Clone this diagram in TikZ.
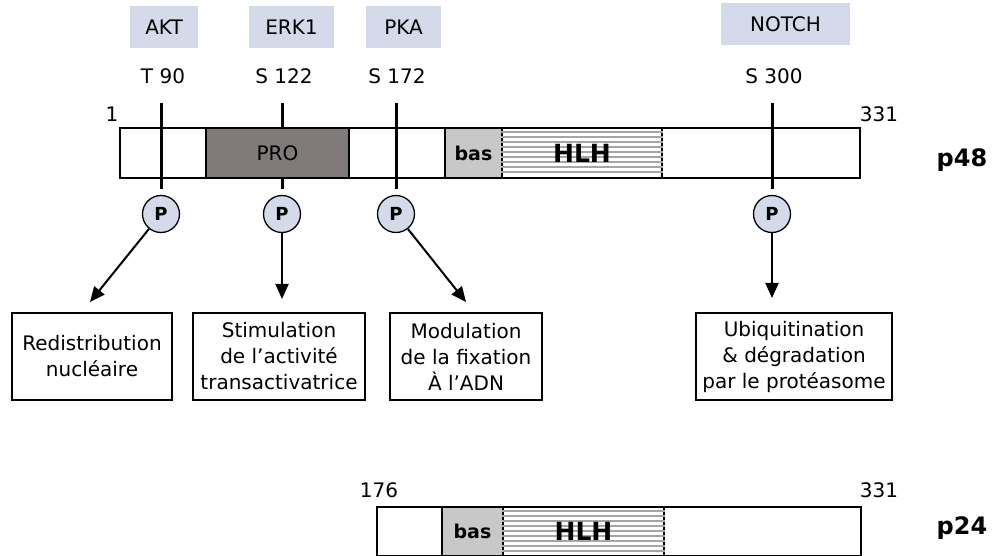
\documentclass[tikz,border=0pt]{standalone}
\usepackage{fontspec}
\setmainfont{DejaVu Sans}
\usepackage{tikz}
\usetikzlibrary{arrows.meta}

\definecolor{kinase}{HTML}{D5DAEB}
\definecolor{prolin}{HTML}{807A7A}
\definecolor{basic}{HTML}{C8C8C8}
\definecolor{stripe}{HTML}{A8A4A4}

\begin{document}
\begin{tikzpicture}[x=1pt,y=-1pt,
    kin/.style={fill=kinase,minimum height=42pt,inner sep=0pt,font=\fontsize{20}{22}\selectfont},
    site/.style={font=\fontsize{20}{22}\selectfont},
    phos/.style={circle,draw,line width=1.3pt,fill=kinase,minimum size=37pt,inner sep=0pt,font=\bfseries\fontsize{18}{20}\selectfont},
    effect/.style={draw,line width=1.3pt,align=center,minimum height=87pt,inner sep=0pt,font=\fontsize{20}{26}\selectfont},
    segbox/.style={draw,line width=1.6pt,minimum height=50pt,inner sep=0pt},
    arr/.style={-{Triangle[length=15pt,width=13pt]},line width=2pt}]
  \useasboundingbox (0,0) rectangle (994,556);

  % kinases and sites
  \node[kin,minimum width=68pt] (akt) at (164,27) {AKT};
  \node[kin,minimum width=85pt] (erk) at (291.5,27) {ERK1};
  \node[kin,minimum width=75pt] (pka) at (403.5,27) {PKA};
  \node[kin,minimum width=129pt] (notch) at (785.5,24) {NOTCH};
  \node[site] (sA) at (163,76) {T 90};
  \node[site] (sE) at (284,76) {S 122};
  \node[site] (sP) at (397,76) {S 172};
  \node[site] (sN) at (774,76) {S 300};

  % p48
  \node[site] (startA) at (112,114) {1};
  \node[site] (endA) at (879,114) {331};
  \draw[line width=1.6pt] (120,128) rectangle (860,178);
  \foreach \x/\n in {161/A,282/E,396/P,772/N} {
    \coordinate (top\n) at (\x,103);
    \coordinate (bot\n) at (\x,189);
    \draw[line width=3pt] (top\n) -- (bot\n);
  }
  \node[segbox,fill=prolin,minimum width=143pt,font=\fontsize{20}{22}\selectfont] (pro) at (277.5,153) {PRO};
  \node[segbox,fill=basic,minimum width=57pt,font=\bfseries\fontsize{19}{21}\selectfont] (basA) at (473.5,153) {bas};
  \node[segbox,minimum width=160pt] (hlhA) at (582,153) {};
  \foreach \y in {132,137,...,176}
    \draw[stripe,line width=1.3pt] (hlhA.west |- 0,\y) -- (hlhA.east |- 0,\y);
  \node[font=\bfseries\fontsize{25}{27}\selectfont] at (hlhA) {HLH};
  \node[font=\bfseries\fontsize{24}{26}\selectfont] (pA) at (962,160) {p48};

  % phosphates
  \node[phos] (phA) at (161,214) {P};
  \node[phos] (phE) at (282,214) {P};
  \node[phos] (phP) at (396,214) {P};
  \node[phos] (phN) at (772,214) {P};

  % effects
  \node[effect,minimum width=160pt] (redis) at (92,356.5) {Redistribution\\nucléaire};
  \node[effect,minimum width=172pt] (stim) at (279,356.5) {Stimulation\\de l’activité\\transactivatrice};
  \node[effect,minimum width=152pt] (modul) at (466,356.5) {Modulation\\de la fixation\\À l’ADN};
  \node[effect,minimum width=196pt] (ubiq) at (794,356.5) {Ubiquitination\\\& dégradation\\par le protéasome};

  \coordinate (tipA) at (90,302);
  \coordinate (tipE) at (282,299);
  \coordinate (tipP) at (466,302);
  \coordinate (tipN) at (772,298);
  \draw[arr] (phA) -- (tipA);
  \draw[arr] (phE) -- (tipE);
  \draw[arr] (phP) -- (tipP);
  \draw[arr] (phN) -- (tipN);

  % p24
  \node[site] (startB) at (379,490) {176};
  \node[site] (endB) at (879,490) {331};
  \draw[line width=1.6pt] (377,507) rectangle (861,556);
  \node[segbox,fill=basic,minimum width=61pt,minimum height=49pt,font=\bfseries\fontsize{19}{21}\selectfont] (basB) at (472.5,531.5) {bas};
  \node[segbox,minimum width=161pt,minimum height=49pt] (hlhB) at (583.5,531.5) {};
  \foreach \y in {511,516,...,554}
    \draw[stripe,line width=1.3pt] (hlhB.west |- 0,\y) -- (hlhB.east |- 0,\y);
  \node[font=\bfseries\fontsize{25}{27}\selectfont] at (hlhB) {HLH};
  \node[font=\bfseries\fontsize{24}{26}\selectfont] (pB) at (962,528) {p24};
\end{tikzpicture}
\end{document}
